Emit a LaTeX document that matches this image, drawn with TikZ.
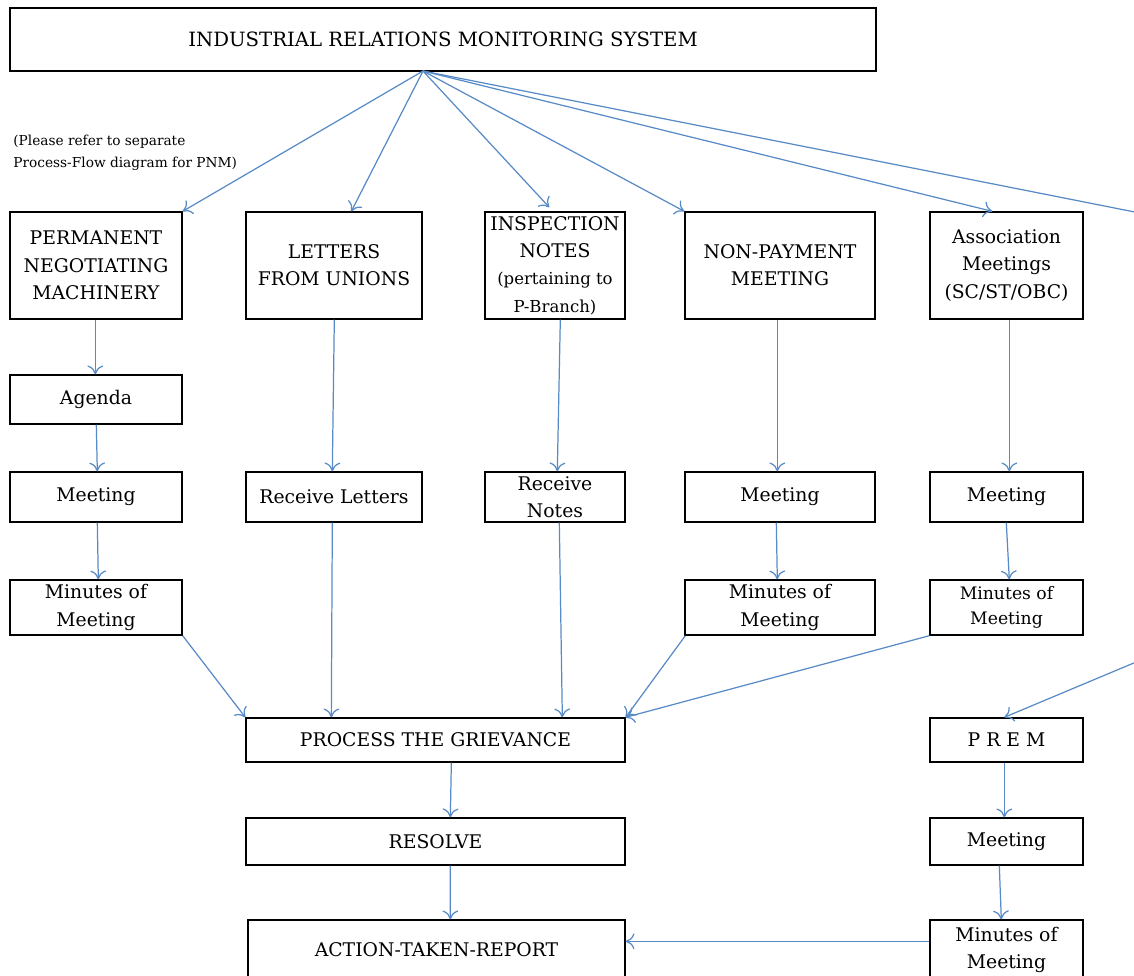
\documentclass[tikz,border=0pt]{standalone}
\usepackage{fontspec}
\setmainfont{DejaVu Serif}
\usepackage{tikz}
\usetikzlibrary{arrows.meta,calc}
\definecolor{arrowblue}{RGB}{88,138,198}
\tikzset{
  box/.style={draw=black,line width=0.8pt,fill=white,align=center,inner sep=1pt,font=\fontsize{10.7}{15.5}\selectfont},
  flow/.style={-{To[length=5pt,width=9pt]},draw=arrowblue,line width=0.7pt}
}
\begin{document}
\begin{tikzpicture}[x=0.02cm,y=-0.02cm]
\useasboundingbox (0,0) rectangle (1134,975);
\clip (0,0) rectangle (1134,975);
\node[box,minimum width=17.32cm,minimum height=1.26cm,font=\fontsize{11.2}{13}\selectfont] (irms) at (443,39.5) {INDUSTRIAL RELATIONS MONITORING SYSTEM};
\node[below right,inner sep=0pt,align=left,font=\fontsize{7.8}{12.5}\selectfont] (note) at (13,135) {(Please refer to separate\\Process-Flow diagram for PNM)};

\node[box,minimum width=3.44cm,minimum height=2.14cm] (pnm) at (96,265.5) {PERMANENT\\NEGOTIATING\\MACHINERY};
\node[box,minimum width=3.52cm,minimum height=2.14cm] (letters) at (334,265.5) {LETTERS\\FROM UNIONS};
\node[box,minimum width=2.8cm,minimum height=2.14cm] (insp) at (555,265.5) {INSPECTION\\NOTES\\{\fontsize{9.4}{13.5}\selectfont (pertaining to}\\{\fontsize{9.4}{13.5}\selectfont P-Branch)}};
\node[box,minimum width=3.8cm,minimum height=2.14cm] (nonpay) at (780,265.5) {NON-PAYMENT\\MEETING};
\node[box,minimum width=3.06cm,minimum height=2.14cm] (assoc) at (1006.5,265.5) {Association\\Meetings\\(SC/ST/OBC)};

\node[box,minimum width=3.44cm,minimum height=0.98cm] (agenda) at (96,399.5) {Agenda};

\node[box,minimum width=3.44cm,minimum height=1cm] (meetpnm) at (96,497) {Meeting};
\node[box,minimum width=3.52cm,minimum height=1cm] (recletters) at (334,497) {Receive Letters};
\node[box,minimum width=2.8cm,minimum height=1cm] (recnotes) at (555,497) {Receive\\Notes};
\node[box,minimum width=3.8cm,minimum height=1cm] (meetnp) at (780,497) {Meeting};
\node[box,minimum width=3.06cm,minimum height=1cm] (meetassoc) at (1006.5,497) {Meeting};

\node[box,minimum width=3.44cm,minimum height=1.1cm] (minpnm) at (96,607.5) {Minutes of\\Meeting};
\node[box,minimum width=3.8cm,minimum height=1.1cm] (minnp) at (780,607.5) {Minutes of\\Meeting};
\node[box,minimum width=3.06cm,minimum height=1.1cm,font=\fontsize{9.8}{14.5}\selectfont] (minassoc) at (1006.5,607.5) {Minutes of\\Meeting};

\node[box,minimum width=7.58cm,minimum height=0.88cm] (process) at (435.5,740) {PROCESS THE GRIEVANCE};
\node[box,minimum width=3.06cm,minimum height=0.88cm] (prem) at (1006.5,740) {P R E M};
\node[box,minimum width=7.58cm,minimum height=0.94cm] (resolve) at (435.5,841.5) {RESOLVE};
\node[box,minimum width=3.06cm,minimum height=0.94cm] (meetprem) at (1006.5,841.5) {Meeting};
\node[box,minimum width=7.54cm,minimum height=1.2cm] (atr) at (436.5,950) {ACTION-TAKEN-REPORT};
\node[box,minimum width=3.06cm,minimum height=1.2cm] (minprem) at (1006.5,950) {Minutes of\\Meeting};

\coordinate (src) at (423,71);
\coordinate (outa) at (1160,217);
\coordinate (outb) at (1160,652);

\draw[flow] (src) -- (pnm.north east);
\draw[flow] (src) -- ($(letters.north west)+(106,0)$);
\draw[flow] (src) -- ($(insp.north west)+(65,-4)$);
\draw[flow] (src) -- (nonpay.north west);
\draw[flow] (src) -- ($(assoc.north west)+(63,0)$);
\draw[flow] (src) -- (outa);
\draw[flow] (outb) -- ($(prem.north west)+(75,0)$);

\draw[flow] ($(pnm.south west)+(86,0)$) -- ($(agenda.north west)+(86,0)$);
\draw[flow] ($(agenda.south west)+(87,0)$) -- ($(meetpnm.north west)+(88,0)$);
\draw[flow] ($(meetpnm.south west)+(88,0)$) -- ($(minpnm.north west)+(89,0)$);
\draw[flow] (minpnm.south east) -- (process.north west);

\draw[flow] ($(letters.south west)+(89,0)$) -- ($(recletters.north west)+(87,0)$);
\draw[flow] ($(recletters.south west)+(87,0)$) -- ($(process.north west)+(86,0)$);

\draw[flow] ($(insp.south west)+(76,0)$) -- ($(recnotes.north west)+(73,0)$);
\draw[flow] ($(recnotes.south west)+(75,0)$) -- ($(process.north west)+(317,0)$);

\draw[flow] ($(nonpay.south west)+(93,0)$) -- ($(meetnp.north west)+(93,0)$);
\draw[flow] ($(meetnp.south west)+(92,0)$) -- ($(minnp.north west)+(93,0)$);
\draw[flow] ($(minnp.south west)+(1,0)$) -- (process.north east);
\draw[flow] (minassoc.south west) -- (process.north east);

\draw[flow] ($(assoc.south west)+(80,0)$) -- ($(meetassoc.north west)+(80,0)$);
\draw[flow] ($(meetassoc.south west)+(77,0)$) -- ($(minassoc.north west)+(80,0)$);

\draw[flow] ($(process.south west)+(206,0)$) -- ($(resolve.north west)+(205,0)$);
\draw[flow] ($(resolve.south west)+(205,0)$) -- ($(atr.north west)+(203,0)$);

\draw[flow] ($(prem.south west)+(75,0)$) -- ($(meetprem.north west)+(75,0)$);
\draw[flow] ($(meetprem.south west)+(70,0)$) -- ($(minprem.north west)+(72,0)$);
\draw[flow] ($(minprem.north west)+(0,22)$) -- ($(atr.north east)+(0,22)$);
\end{tikzpicture}
\end{document}
